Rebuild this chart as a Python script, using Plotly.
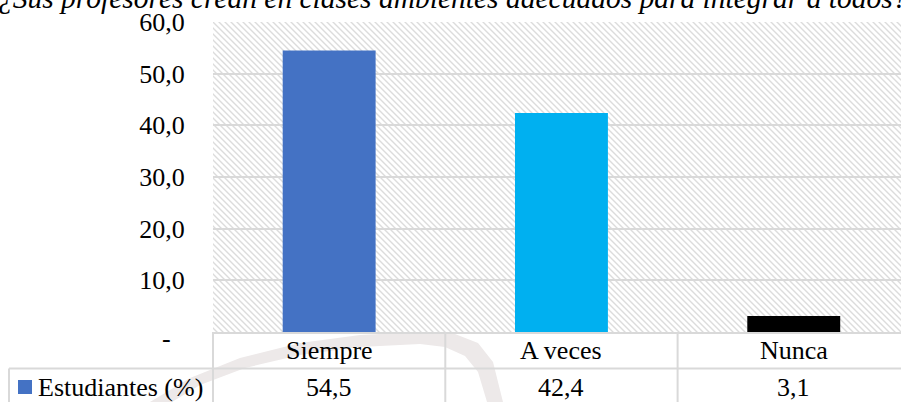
import base64
import plotly.graph_objects as go

# ---------------- data ----------------
categories = ["Siempre", "A veces", "Nunca"]
values = [54.5, 42.4, 3.1]
bar_colors = ["#4472C4", "#00B0F0", "#000000"]
series_name = "Estudiantes (%)"
title_text = "¿Sus profesores crean en clases ambientes adecuados para integrar a todos?"
y_ticks = [10, 20, 30, 40, 50, 60]

# ---------------- layout geometry (pixels) ----------------
W, H = 901, 402
L, T, B = 213, 22, 70
PW, PH = W - L, H - T - B          # plot area size
PB = H - B                          # plot bottom pixel (332)
COL = 232.3                         # category width in px
FONT = "Liberation Serif, Times New Roman, serif"
GRID = "#D9D9D9"


def px(x):
    return (x - L) / PW


def py(y):
    return (PB - y) / PH


fig = go.Figure()
fig.add_trace(go.Bar(
    x=categories, y=values, marker=dict(color=bar_colors, line=dict(width=0)),
    width=0.4, showlegend=False, hoverinfo="x+y"))

# hatch background for the plot area
svg = (f'<svg xmlns="http://www.w3.org/2000/svg" width="{PW}" height="{PH}">'
       '<defs><pattern id="h" width="6" height="6" patternUnits="userSpaceOnUse">'
       '<path d="M-1,-1 L7,7 M-1,5 L1,7 M5,-1 L7,1" stroke="#DCDCDC" stroke-width="1.4"/>'
       '</pattern></defs>'
       f'<rect width="{PW}" height="{PH}" fill="url(#h)"/></svg>')
src = "data:image/svg+xml;base64," + base64.b64encode(svg.encode()).decode()
images = [dict(source=src, xref="paper", yref="paper", x=0, y=1, sizex=1, sizey=1,
               xanchor="left", yanchor="top", sizing="stretch", layer="below")]

shapes = []
# faint watermark arc below the plot
outer = [(150, 402), (190, 378), (240, 358), (300, 343), (360, 335), (420, 332),
         (455, 334), (478, 343), (493, 362), (503, 402)]
inner = [(487, 402), (478, 372), (465, 356), (445, 347), (420, 344), (360, 347),
         (300, 355), (245, 368), (200, 385), (172, 402)]
pts = outer + inner
path = "M " + " L ".join(f"{px(a):.4f},{py(b):.4f}" for a, b in pts) + " Z"
shapes.append(dict(type="path", path=path, xref="paper", yref="paper",
                   fillcolor="#EDE9E9", line=dict(width=0), layer="below"))

# data table lines
ROW1 = 368.5
BOT = 410
line = dict(color=GRID, width=2)
shapes.append(dict(type="line", xref="paper", yref="paper", x0=px(9), x1=1,
                   y0=py(ROW1), y1=py(ROW1), line=line))
shapes.append(dict(type="line", xref="paper", yref="paper", x0=0, x1=0,
                   y0=0, y1=py(BOT), line=line))
shapes.append(dict(type="line", xref="paper", yref="paper", x0=px(9), x1=px(9),
                   y0=py(ROW1), y1=py(BOT), line=line))
for i in range(len(categories) - 1):
    shapes.append(dict(type="line", xref="x", yref="paper", x0=i + 0.5, x1=i + 0.5,
                       y0=0, y1=py(BOT), line=line))
# legend key
shapes.append(dict(type="rect", xref="paper", yref="paper", x0=px(18), x1=px(32),
                   y0=py(394), y1=py(380), fillcolor=bar_colors[0], line=dict(width=0)))

ann = []
tf = dict(family=FONT, size=26, color="#000000")
for c, v in zip(categories, values):
    ann.append(dict(x=c, xref="x", y=py(350.5), yref="paper", text=c, showarrow=False,
                    font=tf, xanchor="center", yanchor="middle"))
    ann.append(dict(x=c, xref="x", y=py(387), yref="paper",
                    text=f"{v:.1f}".replace(".", ","), showarrow=False,
                    font=tf, xanchor="center", yanchor="middle"))
ann.append(dict(x=px(36), xref="paper", y=py(387), yref="paper", text=series_name,
                showarrow=False, font=tf, xanchor="left", yanchor="middle"))
ann.append(dict(x=px(166), xref="paper", y=py(338), yref="paper", text="-",
                showarrow=False, font=tf, xanchor="center", yanchor="middle"))
ann.append(dict(x=px(453), xref="paper", y=py(-1.5), yref="paper",
                text="<i>" + title_text + "</i>",
                showarrow=False, font=dict(family=FONT, size=29.5, color="#000000"),
                xanchor="center", yanchor="middle"))

fig.update_layout(
    width=W, height=H, margin=dict(l=L, r=0, t=T, b=B, pad=0),
    paper_bgcolor="#FFFFFF", plot_bgcolor="#FFFFFF",
    separators=",.",
    bargap=0.6,
    xaxis=dict(type="category", categoryorder="array", categoryarray=categories,
               range=[-0.5, -0.5 + PW / COL], showticklabels=False, showgrid=False,
               showline=True, linecolor=GRID, linewidth=2, ticks="", zeroline=False,
               fixedrange=True),
    yaxis=dict(range=[0, 60], tickvals=y_ticks, tickformat=".1f",
               tickfont=tf, showgrid=True, gridcolor=GRID, gridwidth=1.5,
               zeroline=False, showline=False, ticks="outside", ticklen=22,
               tickcolor="rgba(0,0,0,0)", fixedrange=True),
    images=images, shapes=shapes, annotations=ann,
)

fig.write_html("out.html", config={"displayModeBar": False},
               post_script="document.body.style.margin='0';document.body.style.overflow='hidden';")
